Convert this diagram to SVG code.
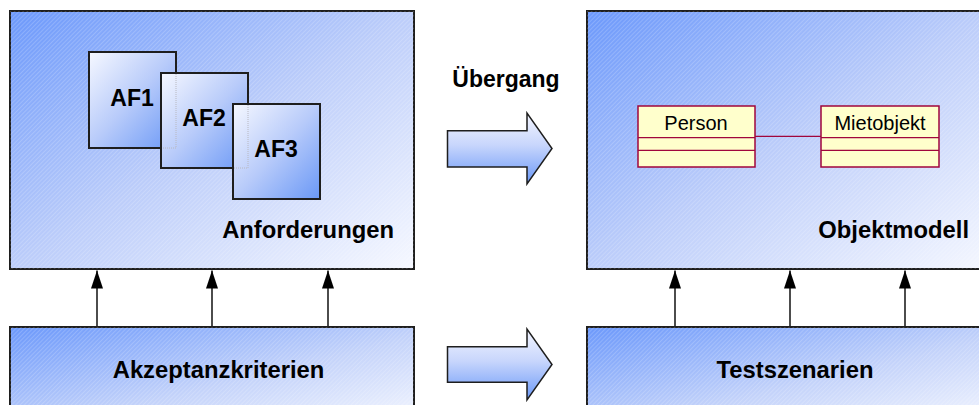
<svg xmlns="http://www.w3.org/2000/svg" width="979" height="405" viewBox="0 0 979 405">
  <defs>
    <linearGradient id="gBox" x1="0" y1="0" x2="1" y2="1">
      <stop offset="0" stop-color="#6b98fb"/>
      <stop offset="0.5" stop-color="#bccdfa"/>
      <stop offset="1" stop-color="#f6f8ff"/>
    </linearGradient>
    <linearGradient id="gBoxLow" x1="0" y1="0" x2="1" y2="1">
      <stop offset="0" stop-color="#6b98fb"/>
      <stop offset="0.55" stop-color="#c4d3fa"/>
      <stop offset="1" stop-color="#f6f8ff"/>
    </linearGradient>
    <linearGradient id="gAF" x1="0" y1="0" x2="1" y2="1">
      <stop offset="0" stop-color="#f6f8ff"/>
      <stop offset="0.5" stop-color="#b8cbfa"/>
      <stop offset="1" stop-color="#6a98f6"/>
    </linearGradient>
    <linearGradient id="gArrow" x1="0" y1="0" x2="0" y2="1">
      <stop offset="0" stop-color="#f4f6ff"/>
      <stop offset="0.45" stop-color="#c8d6fc"/>
      <stop offset="1" stop-color="#6a98f8"/>
    </linearGradient>
    <pattern id="hatch" width="3" height="3" patternUnits="userSpaceOnUse" patternTransform="rotate(45)">
      <rect x="0" y="0" width="1" height="3" fill="#ffffff" fill-opacity="0.18"/>
    </pattern>
    <marker id="ah" viewBox="0 0 18 12" refX="18" refY="6" markerWidth="18" markerHeight="12" markerUnits="userSpaceOnUse" orient="auto">
      <path d="M0,0 L18,6 L0,12 Z" fill="#000"/>
    </marker>
  </defs>
  <style>
    .box { stroke: #1e1e1e; stroke-width: 2; }
    .af { fill: url(#gAF); stroke: #1e1e1e; stroke-width: 2; }
    .ghost { fill: none; stroke: #b8b8c0; stroke-width: 1; stroke-dasharray: 1 1; }
    .lbl { font-family: "Liberation Sans", Arial, sans-serif; font-weight: bold; font-size: 23px; fill: #000; }
    .big-lbl { font-size: 23.8px; }
    .uml { fill: #ffffcc; stroke: #a0063c; stroke-width: 1.5; }
    .umlline { stroke: #a0063c; stroke-width: 1.2; fill: none; }
    .umltxt { font-family: "Liberation Sans", Arial, sans-serif; font-size: 20px; fill: #000; }
    .conn { stroke: #000; stroke-width: 1.4; fill: none; marker-end: url(#ah); }
    .big { fill: url(#gArrow); stroke: #1e1e1e; stroke-width: 1.5; stroke-linejoin: miter; }
  </style>

  <g id="anforderungen">
    <rect class="box" x="10" y="11" width="404" height="258" fill="url(#gBox)"/>
    <rect x="10" y="11" width="404" height="258" fill="url(#hatch)"/>
    <text class="lbl big-lbl" x="394" y="238" text-anchor="end">Anforderungen</text>
  </g>

  <g id="af1">
    <rect class="af" x="89" y="52" width="87" height="96"/>
    <text class="lbl" x="132" y="106" text-anchor="middle">AF1</text>
  </g>
  <g id="af2">
    <rect class="af" x="161" y="73" width="87" height="95"/>
    <path class="ghost" d="M176,74 V148 H162"/>
    <text class="lbl" x="204" y="126" text-anchor="middle">AF2</text>
  </g>
  <g id="af3">
    <rect class="af" x="233" y="104" width="87" height="95"/>
    <path class="ghost" d="M248,105 V168 H234"/>
    <text class="lbl" x="276" y="157" text-anchor="middle">AF3</text>
  </g>

  <g id="uebergang-label">
    <text class="lbl" x="506" y="87" text-anchor="middle">Übergang</text>
  </g>

  <g id="objektmodell">
    <rect class="box" x="587" y="11" width="410" height="258" fill="url(#gBox)"/>
    <rect x="587" y="11" width="410" height="258" fill="url(#hatch)"/>
    <text class="lbl big-lbl" x="969" y="238" text-anchor="end">Objektmodell</text>
  </g>

  <g id="person">
    <rect class="uml" x="638" y="106" width="117" height="61"/>
    <line class="umlline" x1="638" y1="137.7" x2="755" y2="137.7"/>
    <line class="umlline" x1="638" y1="150.3" x2="755" y2="150.3"/>
    <text class="umltxt" x="696" y="130" text-anchor="middle">Person</text>
  </g>

  <g id="mietobjekt">
    <rect class="uml" x="821" y="106" width="118" height="61"/>
    <line class="umlline" x1="821" y1="137.7" x2="939" y2="137.7"/>
    <line class="umlline" x1="821" y1="150.3" x2="939" y2="150.3"/>
    <text class="umltxt" x="880" y="130" text-anchor="middle">Mietobjekt</text>
  </g>

  <g id="akzeptanzkriterien">
    <rect class="box" x="10" y="327" width="404" height="100" fill="url(#gBoxLow)"/>
    <rect x="10" y="327" width="404" height="100" fill="url(#hatch)"/>
    <text class="lbl big-lbl" x="218.5" y="378" text-anchor="middle">Akzeptanzkriterien</text>
  </g>

  <g id="testszenarien">
    <rect class="box" x="587" y="327" width="410" height="100" fill="url(#gBoxLow)"/>
    <rect x="587" y="327" width="410" height="100" fill="url(#hatch)"/>
    <text class="lbl big-lbl" x="795" y="378" text-anchor="middle">Testszenarien</text>
  </g>

  <g id="connectors">
    <line class="umlline" x1="755" y1="136.3" x2="821" y2="136.3"/>
    <line class="conn" x1="97" y1="326" x2="97" y2="270.5"/>
    <line class="conn" x1="212" y1="326" x2="212" y2="270.5"/>
    <line class="conn" x1="328" y1="326" x2="328" y2="270.5"/>
    <line class="conn" x1="675" y1="326" x2="675" y2="270.5"/>
    <line class="conn" x1="790" y1="326" x2="790" y2="270.5"/>
    <line class="conn" x1="905" y1="326" x2="905" y2="270.5"/>
    <path class="big" d="M447.5,130.7 H527 V113 L552,148.5 L527,184 V167 H447.5 Z"/>
    <path class="big" d="M447.5,346.7 H527 V329 L552,364.5 L527,400 V382.3 H447.5 Z"/>
  </g>
</svg>
